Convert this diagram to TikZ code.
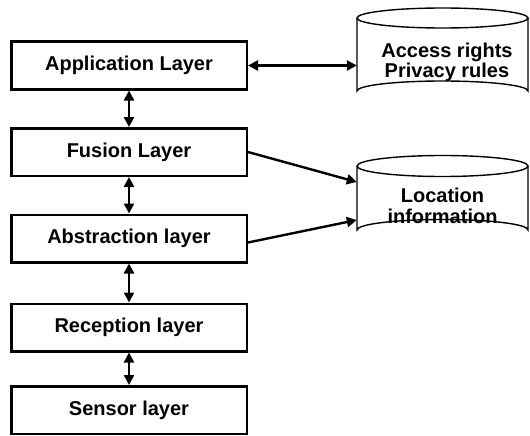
\documentclass[tikz,border=0pt]{standalone}
\usepackage{fontspec}
\setmainfont{Liberation Sans}
\usetikzlibrary{arrows.meta,calc}
\tikzset{
  layer/.style={draw, line width=2.5pt, minimum width=235.5pt, minimum height=47.5pt,
    inner sep=0pt, font=\bfseries\fontsize{20}{22}\selectfont},
  store/.style={minimum width=171pt, inner sep=0pt, align=center,
    font=\bfseries\fontsize{20}{20}\selectfont},
  drum/.style={line width=1.4pt},
  tip/.tip={Triangle[length=10pt,width=10pt]},
  oneway/.style={line width=2.4pt, -tip},
  twoway/.style={line width=2.4pt, tip-tip},
}
\begin{document}
\begin{tikzpicture}[x=1pt,y=-1pt]
  \useasboundingbox (0,0) rectangle (530,436);

  % protocol stack
  \node[layer] (app) at (129,65.5) {Application Layer};
  \node[layer] (fus) at (129,152)  {Fusion Layer};
  \node[layer] (abs) at (129,238.5) {Abstraction layer};
  \node[layer] (rec) at (129,327.5) {Reception layer};
  \node[layer] (sen) at (129,410)  {Sensor layer};

  % data stores
  \draw[drum] (357,18) -- (357,91) arc[start angle=180,end angle=360,x radius=85.5,y radius=10] -- (528,18);
  \draw[drum] (442.5,18) ellipse[x radius=85.5,y radius=10];
  \node[store] (acc) at (442.5,62.5) {\hspace*{9pt}Access rights\\\hspace*{9pt}Privacy rules};

  \draw[drum] (357,166) -- (357,230) arc[start angle=180,end angle=360,x radius=85.5,y radius=10.5] -- (528,166);
  \draw[drum] (442.5,166) ellipse[x radius=85.5,y radius=10.5];
  \node[store] (loc) at (442.5,206) {Location\\[1pt]information};

  % links between layers
  \draw[twoway] (app.south) -- (fus.north);
  \draw[twoway] (fus.south) -- (abs.north);
  \draw[twoway] (abs.south) -- (rec.north);
  \draw[twoway] (rec.south) -- (sen.north);

  % links to the stores
  \draw[twoway] (app.east) -- ($(acc.west)+(0,3)$);
  \draw[oneway] (fus.east) -- ($(loc.west)+(0,-24)$);
  \draw[oneway] ($(abs.east)+(0,4)$) -- ($(loc.west)+(0,14)$);
\end{tikzpicture}
\end{document}
